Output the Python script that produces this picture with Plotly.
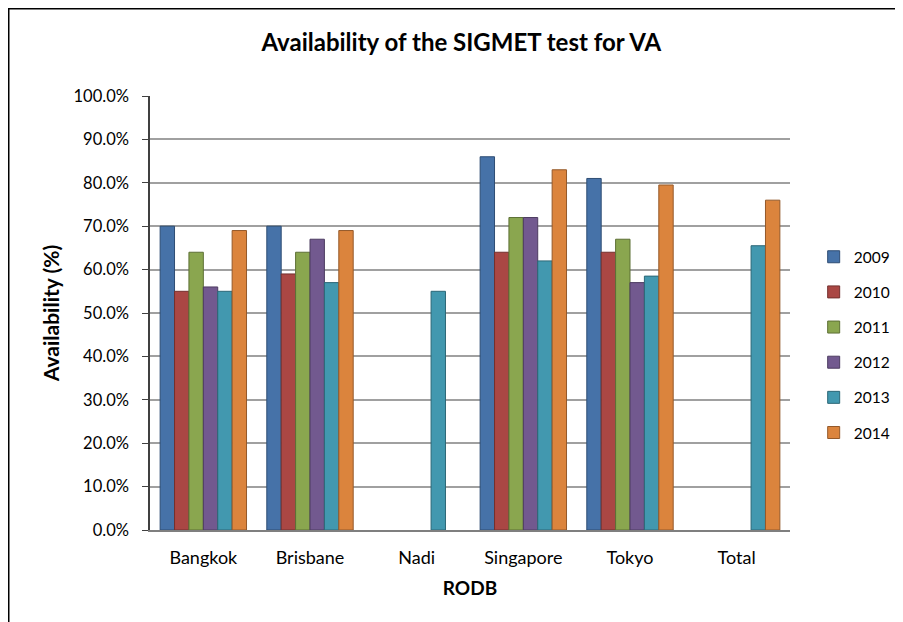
import plotly.graph_objects as go

categories = ["Bangkok", "Brisbane", "Nadi", "Singapore", "Tokyo", "Total"]
years = ["2009", "2010", "2011", "2012", "2013", "2014"]
v2009 = [70, 70, None, 86, 81, None]
v2010 = [55, 59, None, 64, 64, None]
v2011 = [64, 64, None, 72, 67, None]
v2012 = [56, 67, None, 72, 57, None]
v2013 = [55, 57, 55, 62, 58.5, 65.5]
v2014 = [69, 69, None, 83, 79.5, 76]
series = [v2009, v2010, v2011, v2012, v2013, v2014]
colors = ["#4672A8", "#AA4744", "#8AA64F", "#72598F", "#4298AF", "#DB843D"]
edge = ["#2E4D73", "#73302E", "#5D7035", "#4D3C61", "#2C6777", "#94592A"]

font = "Lato, 'Open Sans', sans-serif"
fig = go.Figure()
for name, vals, c, e in zip(years, series, colors, edge):
    fig.add_trace(go.Bar(
        x=categories, y=vals, name=name, legendgroup=name,
        marker=dict(color=c, line=dict(color=e, width=1)),
    ))

fig.update_layout(
    width=903, height=622,
    paper_bgcolor="white", plot_bgcolor="white",
    margin=dict(l=142, r=121, t=88, b=100, autoexpand=False),
    bargap=0.19, bargroupgap=0,
    font=dict(family=font, size=16, color="black"),
    title=dict(text="<b>Availability of the SIGMET test for VA</b>",
               x=0.502, xanchor="center", y=0.945, yanchor="middle",
               font=dict(size=24, family=font)),
    legend=dict(x=1.037, xanchor="left", y=0.427, yanchor="middle",
                font=dict(size=15.5), tracegroupgap=12, itemwidth=30),
    xaxis=dict(
        title=dict(text="<b>RODB</b>", font=dict(size=19), standoff=15),
        showline=True, linecolor="#7F7F7F", linewidth=2,
        ticks="", tickfont=dict(size=18), ticklabelstandoff=10,
    ),
    yaxis=dict(
        title=dict(text="<b>Availability (%)</b>", font=dict(size=21), standoff=8),
        range=[0, 100], dtick=10, tickformat=".1f", ticksuffix="%",
        showgrid=True, gridcolor="#A0A0A0", gridwidth=2,
        showline=True, linecolor="#404040", linewidth=1.5,
        ticks="outside", ticklen=6, tickcolor="#404040",
        zeroline=False, tickfont=dict(size=16.5), ticklabelstandoff=10,
    ),
    shapes=[dict(type="rect", xref="paper", yref="paper",
                 x0=-0.2207, x1=1.5, y0=-0.5, y1=1.201,
                 line=dict(color="black", width=1.5), layer="below")],
)

fig.write_html("out.html")
